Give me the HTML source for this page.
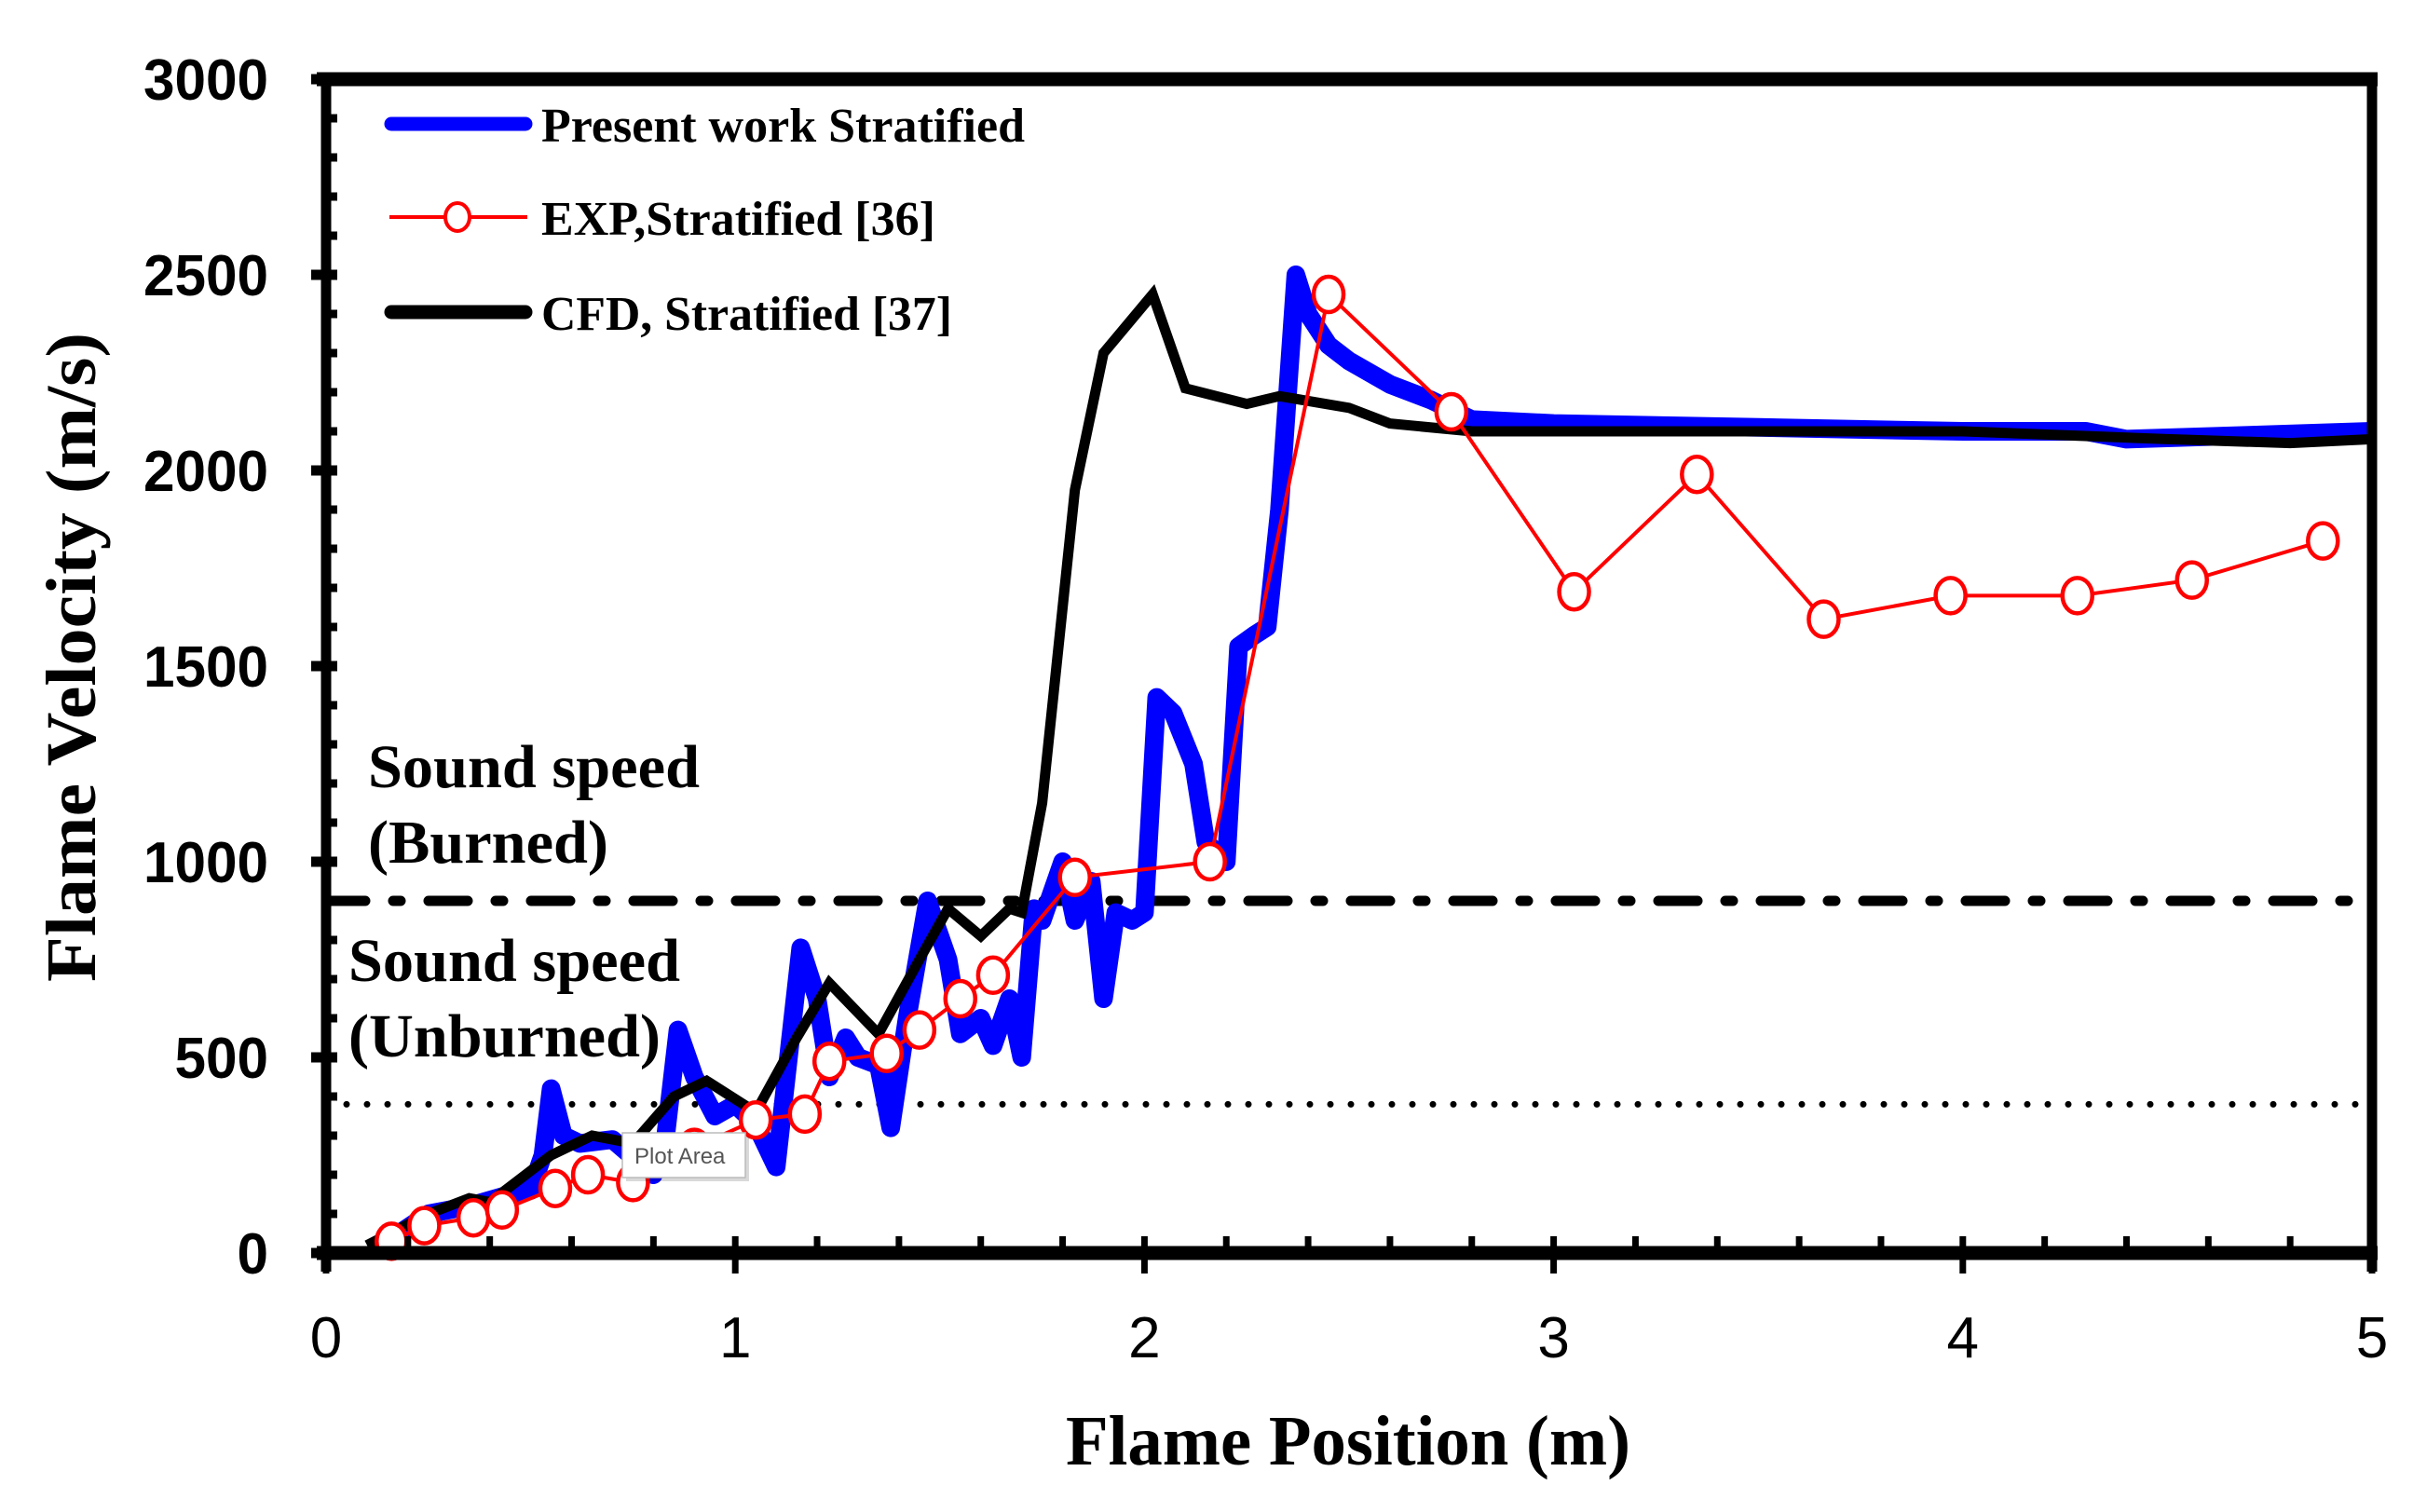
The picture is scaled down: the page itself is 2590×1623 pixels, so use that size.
<!DOCTYPE html>
<html><head><meta charset="utf-8"><style>
html,body{margin:0;padding:0;background:#fff;}
svg{display:block;}
.serif{font-family:"Liberation Serif",serif;font-weight:bold;}
.sans{font-family:"Liberation Sans",sans-serif;}
</style></head>
<body>
<svg id="chart" width="2590" height="1623" viewBox="0 0 2590 1623" xmlns="http://www.w3.org/2000/svg">
<g id="grid"></g>
<g id="series"></g>
<g id="axes"></g>
<g id="texts">
 <text class="serif" x="395" y="845" font-size="66" textLength="356" lengthAdjust="spacingAndGlyphs">Sound speed</text>
 <text class="serif" x="395" y="926" font-size="66" textLength="258" lengthAdjust="spacingAndGlyphs">(Burned)</text>
 <text class="serif" x="374" y="1053" font-size="66" textLength="356" lengthAdjust="spacingAndGlyphs">Sound speed</text>
 <text class="serif" x="374" y="1134" font-size="66" textLength="335" lengthAdjust="spacingAndGlyphs">(Unburned)</text>
 <text class="serif" x="1144" y="1572" font-size="76" textLength="606" lengthAdjust="spacingAndGlyphs">Flame Position (m)</text>
 <text class="serif" transform="translate(102,1054) rotate(-90)" x="0" y="0" font-size="76" textLength="697" lengthAdjust="spacingAndGlyphs">Flame Velocity (m/s)</text>
</g>
<g id="legend">
 <line x1="420" y1="133" x2="564" y2="133" stroke="#0000ff" stroke-width="15" stroke-linecap="round"/>
 <text class="serif" x="581" y="152" font-size="52" textLength="519" lengthAdjust="spacingAndGlyphs">Present work Stratified</text>
 <line x1="418" y1="233" x2="566" y2="233" stroke="#ff0000" stroke-width="4"/>
 <ellipse cx="491" cy="233" rx="13" ry="15" fill="#fff" stroke="#ff0000" stroke-width="4"/>
 <text class="serif" x="581" y="252" font-size="52" textLength="423" lengthAdjust="spacingAndGlyphs">EXP,Stratified [36]</text>
 <line x1="420" y1="335" x2="564" y2="335" stroke="#000" stroke-width="15" stroke-linecap="round"/>
 <text class="serif" x="581" y="354" font-size="52" textLength="441" lengthAdjust="spacingAndGlyphs">CFD, Stratified [37]</text>
</g>
<g>
 <rect x="672" y="1220" width="132" height="48" fill="#000" opacity="0.15"/>
 <rect x="668" y="1216" width="132" height="48" fill="#fff" stroke="#bbb" stroke-width="1.5"/>
 <text class="sans" x="681" y="1249" font-size="24" fill="#555">Plot Area</text>
</g>
</svg>
<script>
const xTicks=[0,1,2,3,4,5];
const yTicks=[0,500,1000,1500,2000,2500,3000];
const burnedSpeed=900;
const unburnedSpeed=380;
const presentX=[0.15,0.25,0.3,0.35,0.45,0.5,0.53,0.55,0.58,0.62,0.7,0.8,0.83,0.86,0.9,0.95,1.0,1.05,1.1,1.13,1.16,1.2,1.23,1.27,1.3,1.35,1.38,1.42,1.47,1.52,1.55,1.6,1.63,1.67,1.7,1.73,1.75,1.8,1.83,1.87,1.9,1.93,1.97,2.0,2.03,2.07,2.12,2.15,2.2,2.23,2.27,2.3,2.33,2.37,2.4,2.45,2.5,2.6,2.7,2.8,3.0,3.5,4.0,4.3,4.4,4.7,5.0];
const presentY=[30,100,110,120,150,160,250,420,300,280,290,200,300,570,450,350,380,330,220,500,780,650,450,550,500,480,320,600,900,750,560,600,530,650,500,880,850,1000,850,950,650,870,850,870,1420,1380,1250,1050,1000,1550,1580,1600,1900,2500,2400,2320,2280,2220,2180,2130,2120,2110,2100,2100,2080,2090,2100];
const expX=[0.16,0.24,0.36,0.43,0.56,0.64,0.75,0.9,1.05,1.17,1.23,1.37,1.45,1.55,1.63,1.83,2.16,2.45,2.75,3.05,3.35,3.66,3.97,4.28,4.56,4.88];
const expY=[30,70,90,110,165,200,180,270,340,355,490,510,570,650,710,960,1000,2450,2150,1690,1990,1620,1680,1680,1720,1820];
const cfdX=[0.1,0.25,0.35,0.4,0.55,0.65,0.75,0.85,0.93,1.05,1.15,1.23,1.35,1.45,1.52,1.6,1.67,1.7,1.75,1.83,1.9,2.02,2.1,2.25,2.33,2.5,2.6,2.8,3.2,4.0,4.5,4.8,5.0];
const cfdY=[20,100,140,130,250,300,280,400,440,360,550,690,560,750,880,810,880,870,1150,1950,2300,2450,2210,2170,2190,2160,2120,2100,2100,2100,2080,2070,2080];

const L=350,R=2546,T=85,B=1345;
const X=v=>L+v/5*(R-L);
const Y=v=>B-v/3000*(B-T);
const NS="http://www.w3.org/2000/svg";
function mk(tag,parent,attrs){const e=document.createElementNS(NS,tag);for(const k in attrs)e.setAttribute(k,attrs[k]);parent.appendChild(e);return e;}
const grid=document.getElementById('grid'),series=document.getElementById('series'),axes=document.getElementById('axes');

let l1=mk('line',grid,{x1:L,x2:R,y1:Y(burnedSpeed),y2:Y(burnedSpeed),stroke:'#000','stroke-width':11,'stroke-dasharray':'42 30 8 30','stroke-linecap':'round'});


let l2=mk('line',grid,{x1:L,x2:R,y1:Y(unburnedSpeed),y2:Y(unburnedSpeed),stroke:'#000','stroke-width':7,'stroke-dasharray':'0 22','stroke-linecap':'round'});



function pts(xs,ys){return xs.map((x,i)=>X(x)+','+Y(ys[i])).join(' ');}
let p1=mk('polyline',series,{points:pts(presentX,presentY),fill:'none',stroke:'#0000ff','stroke-width':20,'stroke-linejoin':'round'});


let p2=mk('polyline',series,{points:pts(cfdX,cfdY),fill:'none',stroke:'#000','stroke-width':11,'stroke-linejoin':'miter'});


let p3=mk('polyline',series,{points:pts(expX,expY),fill:'none',stroke:'#ff0000','stroke-width':4});


expX.forEach((x,i)=>{
  const c=mk('ellipse',series,{cx:X(x),cy:Y(expY[i]),rx:16,ry:19,fill:'#fff',stroke:'#ff0000','stroke-width':4.5});
  
  
});

mk('line',axes,{x1:L-10,x2:R+6,y1:T,y2:T,stroke:'#000','stroke-width':15});
mk('line',axes,{x1:L-10,x2:R+6,y1:B,y2:B,stroke:'#000','stroke-width':15});
mk('line',axes,{x1:L,x2:L,y1:T,y2:B+20,stroke:'#000','stroke-width':11});
mk('line',axes,{x1:R,x2:R,y1:T,y2:B+20,stroke:'#000','stroke-width':11});
for(let v=100;v<3000;v+=100){mk('line',axes,{x1:L,x2:L+12,y1:Y(v),y2:Y(v),stroke:'#000','stroke-width':9});}
for(let v=0.2;v<5;v+=0.2){mk('line',axes,{x1:X(v),x2:X(v),y1:B,y2:B-18,stroke:'#000','stroke-width':7});}
yTicks.forEach(v=>{
  mk('line',axes,{x1:L-16,x2:L+12,y1:Y(v),y2:Y(v),stroke:'#000','stroke-width':11});
  const t=mk('text',axes,{x:288,y:Y(v)+22,'text-anchor':'end','font-size':62,'font-weight':'bold','class':'sans',textLength:(String(v).length*33.5),lengthAdjust:'spacingAndGlyphs'});
  t.textContent=v;
  
  
});
xTicks.forEach(v=>{
  mk('line',axes,{x1:X(v),x2:X(v),y1:B,y2:B+22,stroke:'#000','stroke-width':7});
  const t=mk('text',axes,{x:X(v),y:1457,'text-anchor':'middle','font-size':62,'class':'sans'});
  t.textContent=v;
  
  
});
</script>
</body></html>
